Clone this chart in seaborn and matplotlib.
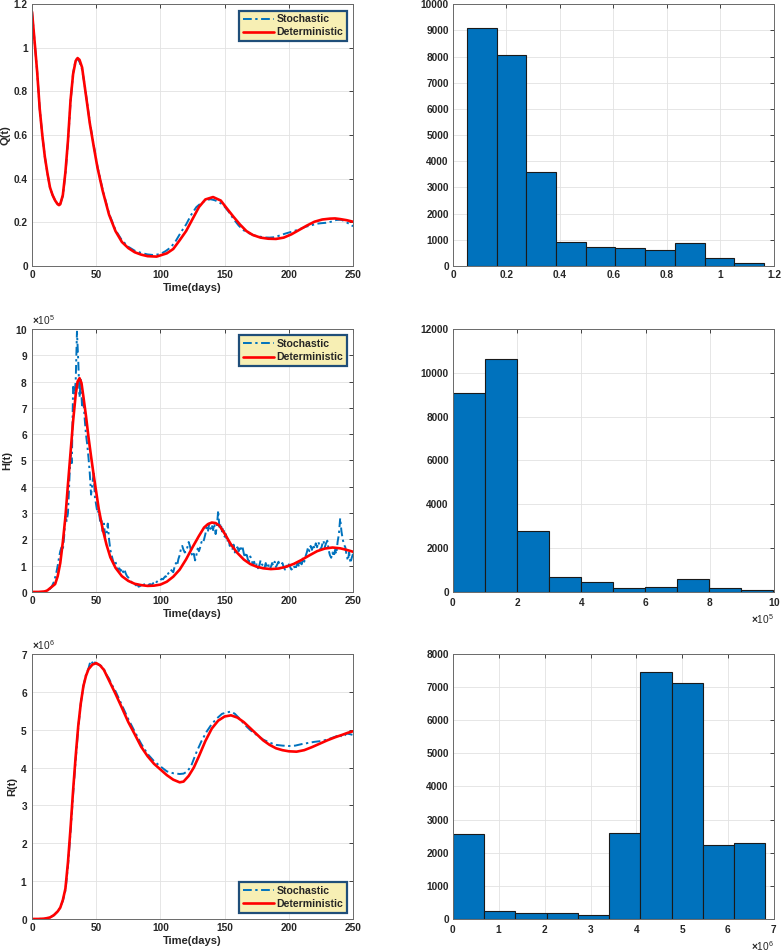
import numpy as np
import pandas as pd
import matplotlib
matplotlib.use('Agg')
import matplotlib.pyplot as plt
import seaborn as sns
from matplotlib.ticker import FuncFormatter, MultipleLocator

# ---- Q(t) ----
q_det_t = [0, 2, 4, 6, 8, 10, 12, 14, 16, 18, 20, 21, 22, 24, 26, 28, 30, 32, 34, 35.5,
           37, 39, 41, 43, 45, 48, 51, 55, 60, 65, 70, 75, 80, 85, 90, 97, 105, 110, 115, 120,
           125, 130, 135, 141, 147, 152, 157, 162, 167, 172, 178, 184, 190, 196, 202, 208, 214, 220, 226, 232,
           236, 240, 245, 250]
q_det = [1.165, 1.03, 0.89, 0.72, 0.6, 0.5, 0.425, 0.36, 0.325, 0.3, 0.283, 0.279, 0.283, 0.325, 0.43, 0.575, 0.76, 0.88, 0.94, 0.953,
         0.945, 0.91, 0.825, 0.74, 0.654, 0.55, 0.45, 0.345, 0.235, 0.16, 0.11, 0.082, 0.063, 0.052, 0.045, 0.043, 0.058, 0.078, 0.118, 0.16,
         0.215, 0.27, 0.305, 0.316, 0.3, 0.262, 0.225, 0.19, 0.16, 0.142, 0.13, 0.125, 0.124, 0.13, 0.145, 0.165, 0.185, 0.203, 0.213, 0.217,
         0.218, 0.215, 0.21, 0.203]
q_sto_t = [0, 2, 4, 6, 8, 10, 12, 14, 16, 18, 20, 21, 22, 24, 26, 28, 30, 32, 34, 35.5,
           37, 39, 41, 43, 45, 48, 51, 55, 60, 65, 70, 75, 80, 85, 90, 95, 100, 104, 108, 112,
           116, 120, 124, 128, 132, 136, 139, 142, 145, 149, 153, 157, 161, 165, 169, 173, 177, 181, 185, 189,
           193, 197, 201, 205, 209, 213, 217, 221, 225, 229, 233, 237, 241, 245, 248, 250]
q_sto = [1.165, 1.03, 0.89, 0.72, 0.6, 0.5, 0.425, 0.36, 0.325, 0.3, 0.283, 0.28, 0.285, 0.32, 0.42, 0.565, 0.75, 0.885, 0.945, 0.95,
         0.935, 0.9, 0.83, 0.745, 0.66, 0.555, 0.455, 0.35, 0.24, 0.165, 0.118, 0.088, 0.07, 0.06, 0.053, 0.05, 0.055, 0.068, 0.085, 0.115,
         0.155, 0.19, 0.235, 0.27, 0.29, 0.302, 0.306, 0.302, 0.295, 0.279, 0.25, 0.215, 0.185, 0.163, 0.15, 0.14, 0.135, 0.131, 0.13, 0.132,
         0.14, 0.148, 0.155, 0.162, 0.17, 0.18, 0.185, 0.193, 0.196, 0.198, 0.203, 0.211, 0.212, 0.2, 0.19, 0.182]

# ---- H(t), in units of 1e5 ----
h_det_t = [0, 5, 10, 12, 14, 16, 18, 20, 22, 24, 26, 28, 30, 32, 34, 35.5, 37, 38.5, 40, 42,
           44, 46, 48, 50, 52, 55, 58, 61, 65, 70, 75, 80, 85, 90, 95, 100, 105, 110, 115, 120,
           125, 130, 134, 137, 140, 143, 146, 150, 155, 160, 165, 170, 175, 180, 186, 192, 198, 204, 210, 216,
           222, 228, 234, 240, 245, 250]
h_det = [0, 0, 0.02, 0.06, 0.14, 0.22, 0.3, 0.6, 1.1, 1.9, 2.85, 4.1, 5.3, 6.5, 7.5, 8.0, 8.13, 7.95, 7.43, 6.7,
         5.88, 5.15, 4.45, 3.8, 3.15, 2.4, 1.8, 1.32, 0.92, 0.6, 0.42, 0.31, 0.26, 0.23, 0.24, 0.28, 0.39, 0.58, 0.85, 1.24,
         1.7, 2.13, 2.45, 2.58, 2.64, 2.62, 2.52, 2.22, 1.8, 1.48, 1.23, 1.06, 0.96, 0.9, 0.87, 0.89, 0.96, 1.07, 1.22, 1.39,
         1.55, 1.65, 1.69, 1.66, 1.6, 1.53]
h_sto_t = list(range(251))
h_sto = [0, 0, 0, 0, 0, 0, 0, 0, 0.01, 0.01, 0.02, 0.03, 0.05, 0.08, 0.12,
         0.18, 0.27, 0.38, 0.55, 0.75, 1.0, 1.3, 1.55, 1.7, 1.6, 2.1, 2.9, 2.7, 3.0, 4.2,
         5.3, 4.9, 7.8, 7.5, 8.0, 9.9, 8.8, 7.4, 8.1, 7.0,
         7.3, 6.6, 6.0, 5.6, 5.1, 4.5, 3.7, 4.1, 4.5, 3.6,
         3.3, 3.0, 3.1, 2.7, 2.8, 2.3, 2.6, 2.1, 2.2, 2.6,
         2.0, 1.6, 1.4, 1.2, 1.05, 1.15, 0.95, 0.85, 0.9, 0.8,
         0.9, 0.75, 0.85, 0.7, 0.6, 0.55, 0.45, 0.4, 0.35, 0.3,
         0.3, 0.25, 0.3, 0.2, 0.22, 0.25, 0.2, 0.28, 0.3, 0.25,
         0.22, 0.28, 0.3, 0.25, 0.32, 0.35, 0.3, 0.38, 0.42, 0.4,
         0.45, 0.5, 0.48, 0.55, 0.6, 0.55, 0.7, 0.75, 0.85, 0.8,
         0.75, 0.95, 1.1, 1.0, 1.25, 1.4, 1.65, 1.75, 1.6, 1.5,
         1.55, 1.7, 1.9, 1.75, 1.5, 1.35, 1.45, 1.2, 1.4, 1.65,
         1.55, 1.7, 1.9, 1.85, 2.0, 2.2, 2.45, 2.3, 2.6, 2.4,
         2.55, 2.35, 2.6, 2.2, 2.5, 3.1, 2.4, 2.6, 2.3, 2.45,
         2.1, 2.2, 1.9, 2.05, 1.75, 1.9, 1.6, 1.8, 1.5, 1.65,
         1.7, 1.55, 1.75, 1.6, 1.7, 1.45, 1.3, 1.5, 1.25, 1.15,
         1.35, 1.2, 1.05, 1.15, 0.95, 1.05, 0.9, 1.0, 1.2, 1.05,
         1.0, 0.9, 1.1, 0.95, 1.05, 0.85, 0.95, 1.1, 1.0, 1.15,
         0.95, 1.05, 1.15, 0.9, 1.0, 1.1, 0.95, 0.85, 1.0, 0.9,
         1.05, 0.95, 0.85, 0.9, 1.0, 0.85, 1.0, 1.1, 0.95, 1.2,
         1.05, 1.3, 1.15, 1.35, 1.5, 1.7, 1.55, 1.75, 1.6, 1.8,
         1.65, 1.85, 1.7, 1.9, 1.75, 1.6, 1.8, 1.95, 1.7, 1.85,
         1.95, 1.6, 1.4, 1.3, 1.5, 1.35, 1.6, 1.45, 1.9, 2.2,
         2.8, 2.3, 2.0, 1.8, 1.7, 1.4, 1.2, 1.5, 1.1, 1.3, 1.45]

# ---- R(t), in units of 1e6 ----
r_det_t = [0, 5, 10, 14, 17, 20, 22, 24, 26, 28, 30, 32, 34, 36, 38, 40, 42, 44, 47, 50,
           53, 56, 60, 65, 70, 75, 80, 85, 90, 95, 100, 105, 110, 115, 118, 122, 126, 130, 135, 140,
           145, 150, 155, 160, 165, 170, 175, 180, 185, 190, 195, 200, 206, 212, 218, 224, 230, 236, 242, 246,
           250]
r_det = [0, 0, 0.01, 0.04, 0.1, 0.2, 0.3, 0.5, 0.8, 1.5, 2.4, 3.4, 4.3, 5.1, 5.7, 6.15, 6.42, 6.6, 6.72, 6.76,
         6.7, 6.58, 6.3, 5.95, 5.58, 5.2, 4.88, 4.55, 4.3, 4.1, 3.95, 3.8, 3.68, 3.61, 3.63, 3.78, 4.0, 4.3, 4.7, 5.03,
         5.24, 5.35, 5.38, 5.32, 5.2, 5.04, 4.88, 4.72, 4.6, 4.51, 4.46, 4.43, 4.42, 4.46, 4.54, 4.63, 4.72, 4.8, 4.87, 4.92,
         4.96]
r_sto_t = [0, 5, 10, 14, 17, 20, 22, 24, 26, 28, 30, 32, 34, 36, 38, 40, 42, 44, 45, 46,
           47, 48, 49, 50, 52, 54, 56, 58, 60, 62, 65, 70, 75, 80, 85, 90, 95, 100, 105, 110,
           115, 118, 121, 124, 128, 132, 136, 140, 144, 148, 152, 155, 158, 162, 166, 170, 175, 180, 185, 190,
           195, 200, 205, 210, 215, 220, 225, 230, 235, 238, 240, 241, 243, 245, 248, 250]
r_sto = [0, 0, 0.01, 0.04, 0.1, 0.2, 0.3, 0.48, 0.75, 1.4, 2.3, 3.3, 4.2, 5.05, 5.7, 6.15, 6.45, 6.62, 6.75, 6.7,
         6.78, 6.72, 6.78, 6.74, 6.72, 6.68, 6.6, 6.45, 6.35, 6.2, 6.02, 5.65, 5.28, 4.95, 4.63, 4.36, 4.17, 4.03, 3.9, 3.85,
         3.83, 3.84, 3.9, 4.05, 4.4, 4.7, 4.95, 5.15, 5.3, 5.42, 5.46, 5.48, 5.42, 5.28, 5.12, 4.99, 4.86, 4.74, 4.66, 4.6,
         4.58, 4.57, 4.58, 4.62, 4.65, 4.68, 4.7, 4.74, 4.8, 4.84, 4.8, 4.86, 4.83, 4.9, 4.88, 4.86]

# ---- histograms ----
q_edges = [0.052, 0.163, 0.274, 0.385, 0.496, 0.607, 0.719, 0.830, 0.941, 1.052, 1.163]
q_counts = [9080, 8070, 3580, 905, 740, 675, 615, 880, 295, 115]
h_edges = [0, 0.998, 1.996, 2.994, 3.992, 4.99, 5.988, 6.986, 7.984, 8.982, 9.98]  # x 1e5
h_counts = [9080, 10640, 2800, 690, 440, 185, 245, 580, 170, 110]
r_edges = [0, 0.681, 1.362, 2.043, 2.724, 3.405, 4.086, 4.767, 5.448, 6.129, 6.81]  # x 1e6
r_counts = [2560, 255, 175, 175, 115, 2600, 7445, 7125, 2225, 2305]

BLUE = '#0072BD'
RED = '#FF0000'

sns.set_style('white')
plt.rcParams['font.family'] = ['Liberation Sans', 'DejaVu Sans']
plt.rcParams['font.weight'] = 'bold'
plt.rcParams['axes.labelweight'] = 'bold'
plt.rcParams['mathtext.fontset'] = 'custom'
plt.rcParams['mathtext.rm'] = 'Liberation Sans'

fig = plt.figure(figsize=(7.81, 9.52), dpi=100)

left_x, right_x, w = 0.041, 0.580, 0.411
rows = [(0.7206, 0.275), (0.3782, 0.2762), (0.0347, 0.2783)]


def style(ax):
    ax.grid(True, color='#e2e2e2', linewidth=0.6)
    ax.set_axisbelow(True)
    ax.tick_params(direction='in', top=True, right=True, length=3, width=0.6,
                   colors='#262626', labelsize=7.3, pad=3)
    for s in ax.spines.values():
        s.set_color('#6a6a6a')
        s.set_linewidth(0.7)
    for lab in ax.get_xticklabels() + ax.get_yticklabels():
        lab.set_fontweight('bold')


gfmt = FuncFormatter(lambda v, p: '%g' % round(v, 6))


def series_panel(ax, ts, ys, td, yd, scale, ylabel, ymax, ystep, loc):
    sns.lineplot(x=np.array(ts), y=np.array(ys) * scale, ax=ax, color=BLUE,
                 linewidth=1.4, label='Stochastic', sort=False)
    ax.lines[-1].set_dashes([4.5, 1.8, 1.2, 1.8])
    sns.lineplot(x=np.array(td), y=np.array(yd) * scale, ax=ax, color=RED,
                 linewidth=1.9, label='Deterministic', sort=False)
    ax.set_xlim(0, 250)
    ax.set_ylim(0, ymax)
    ax.xaxis.set_major_locator(MultipleLocator(50))
    ax.yaxis.set_major_locator(MultipleLocator(ystep))
    ax.set_xlabel('Time(days)', fontsize=8, labelpad=2)
    ax.set_ylabel(ylabel, fontsize=8, labelpad=2)
    leg = ax.legend(loc=loc, frameon=True, fancybox=False, edgecolor='#1f4e79',
                    facecolor='#f7efb4', framealpha=1,
                    prop={'weight': 'bold', 'size': 7.6}, handlelength=2.9,
                    borderpad=0.35, labelspacing=0.3, handletextpad=0.25,
                    borderaxespad=0.6)
    leg.get_frame().set_linewidth(1.6)
    style(ax)


def hist_panel(ax, edges, counts, scale, xmax, xstep, ymax, ystep):
    e = [v * scale for v in edges]
    df = pd.DataFrame({'x': [(a + b) / 2 for a, b in zip(e[:-1], e[1:])],
                       'n': counts})
    sns.histplot(data=df, x='x', weights='n', bins=e, ax=ax, color=BLUE,
                 edgecolor='#1a1a1a', linewidth=0.8, alpha=1)
    ax.set_xlim(0, xmax)
    ax.set_ylim(0, ymax)
    ax.xaxis.set_major_locator(MultipleLocator(xstep))
    ax.yaxis.set_major_locator(MultipleLocator(ystep))
    ax.set_xlabel('')
    ax.set_ylabel('')
    style(ax)


# row 1
ax1 = fig.add_axes([left_x, rows[0][0], w, rows[0][1]])
series_panel(ax1, q_sto_t, q_sto, q_det_t, q_det, 1, 'Q(t)', 1.2, 0.2, 'upper right')
ax1.yaxis.set_major_formatter(gfmt)
ax1.xaxis.set_major_formatter(gfmt)

ax2 = fig.add_axes([right_x, rows[0][0], w, rows[0][1]])
hist_panel(ax2, q_edges, q_counts, 1, 1.2, 0.2, 10000, 1000)
ax2.xaxis.set_major_formatter(gfmt)

# row 2
ax3 = fig.add_axes([left_x, rows[1][0], w, rows[1][1]])
series_panel(ax3, h_sto_t, h_sto, h_det_t, h_det, 1e5, 'H(t)', 1e6, 1e5, 'upper right')
ax3.ticklabel_format(axis='y', style='sci', scilimits=(5, 5), useMathText=True)
ax3.xaxis.set_major_formatter(gfmt)

ax4 = fig.add_axes([right_x, rows[1][0], w, rows[1][1]])
hist_panel(ax4, h_edges, h_counts, 1e5, 1e6, 2e5, 12000, 2000)
ax4.ticklabel_format(axis='x', style='sci', scilimits=(5, 5), useMathText=True)

# row 3
ax5 = fig.add_axes([left_x, rows[2][0], w, rows[2][1]])
series_panel(ax5, r_sto_t, r_sto, r_det_t, r_det, 1e6, 'R(t)', 7e6, 1e6, 'lower right')
ax5.ticklabel_format(axis='y', style='sci', scilimits=(6, 6), useMathText=True)
ax5.xaxis.set_major_formatter(gfmt)

ax6 = fig.add_axes([right_x, rows[2][0], w, rows[2][1]])
hist_panel(ax6, r_edges, r_counts, 1e6, 7e6, 1e6, 8000, 1000)
ax6.ticklabel_format(axis='x', style='sci', scilimits=(6, 6), useMathText=True)

for ax in [ax3, ax5]:
    t = ax.yaxis.get_offset_text()
    t.set_fontsize(7.3)
    t.set_fontweight('normal')
    t.set_color('#262626')
for ax in [ax4, ax6]:
    t = ax.xaxis.get_offset_text()
    t.set_fontsize(7.3)
    t.set_fontweight('normal')
    t.set_color('#262626')

fig.savefig('out.png', dpi=100)
